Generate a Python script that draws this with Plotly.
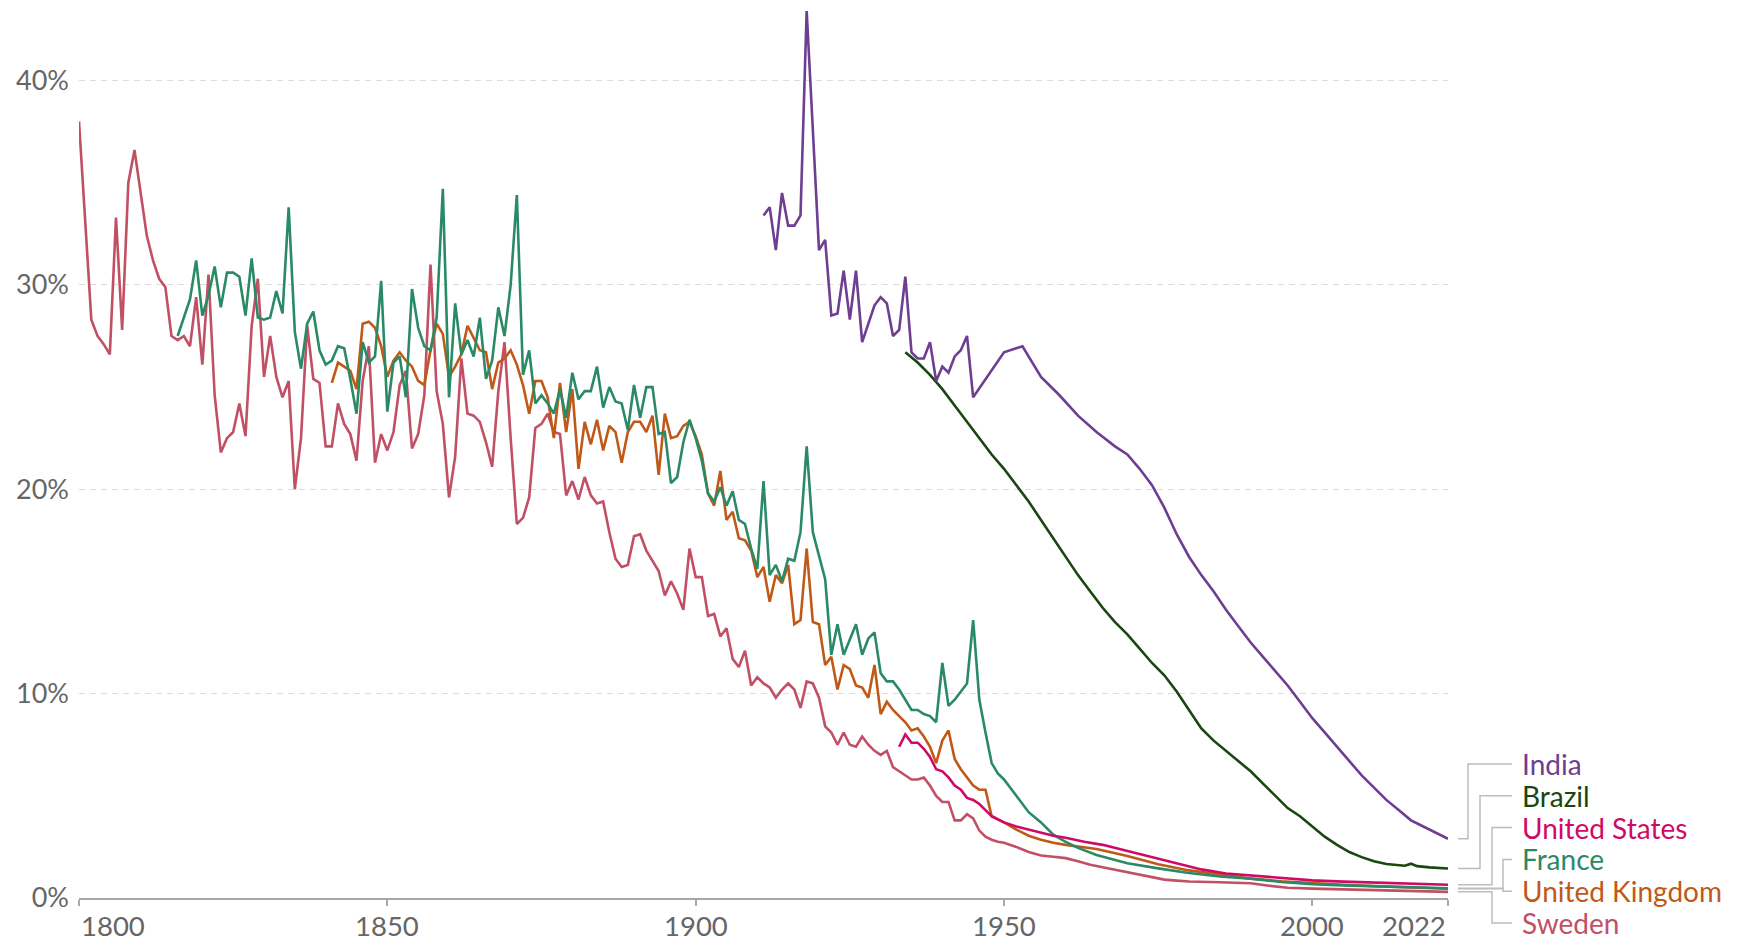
import plotly.graph_objects as go

# ---------------- data (under-five mortality, % of children) ----------------
sweden_years = list(range(1800, 1951)) + [1952, 1954, 1956, 1958, 1960, 1962, 1964, 1966, 1968, 1970, 1972,
                                          1974, 1976, 1978, 1980, 1985, 1990, 1993, 1996, 2000, 2005, 2010, 2015, 2022]
sweden_vals = [
    38.0, 33.2, 28.3, 27.5, 27.1, 26.6, 33.3, 27.8, 35.0, 36.6,
    34.4, 32.4, 31.2, 30.3, 29.9, 27.5, 27.3, 27.5, 27.0, 29.4,
    26.1, 30.5, 24.6, 21.8, 22.5, 22.8, 24.2, 22.6, 28.0, 30.3,
    25.5, 27.5, 25.5, 24.5, 25.3, 20.0, 22.5, 28.0, 25.4, 25.2,
    22.1, 22.1, 24.2, 23.2, 22.7, 21.4, 25.3, 27.0, 21.3, 22.7,
    21.9, 22.8, 25.1, 25.8, 22.0, 22.7, 24.6, 31.0, 24.8, 23.2,
    19.6, 21.6, 26.4, 23.7, 23.6, 23.3, 22.3, 21.1, 24.8, 27.2,
    22.5, 18.3, 18.6, 19.6, 23.0, 23.2, 23.7, 22.8, 22.7, 19.7,
    20.4, 19.5, 20.6, 19.7, 19.3, 19.4, 17.9, 16.6, 16.2, 16.3,
    17.7, 17.8, 17.0, 16.5, 16.0, 14.8, 15.5, 14.9, 14.1, 17.1,
    15.7, 15.7, 13.8, 13.9, 12.8, 13.2, 11.7, 11.3, 12.1, 10.4,
    10.8, 10.5, 10.3, 9.8, 10.2, 10.5, 10.2, 9.3, 10.6, 10.5,
    9.8, 8.4, 8.1, 7.5, 8.1, 7.5, 7.4, 7.9, 7.5, 7.2,
    7.0, 7.2, 6.4, 6.2, 6.0, 5.8, 5.8, 5.9, 5.5, 5.0,
    4.7, 4.7, 3.8, 3.8, 4.1, 3.9, 3.3, 3.0, 2.85, 2.75,
    2.7,
    2.5, 2.25, 2.08, 2.02, 1.95, 1.8, 1.63, 1.5, 1.38, 1.27, 1.12,
    1.0, 0.9, 0.85, 0.81, 0.77, 0.72, 0.6, 0.5, 0.46, 0.42, 0.38, 0.33, 0.3,
]

france_years = list(range(1816, 1951)) + [1952, 1954, 1956, 1958, 1960, 1962, 1965, 1970, 1975, 1980,
                                          1985, 1990, 1995, 2000, 2005, 2010, 2015, 2022]
france_vals = [
    27.5, 28.4, 29.3, 31.2,
    28.5, 29.5, 30.9, 28.9, 30.6, 30.6, 30.4, 28.5, 31.3, 28.4,
    28.3, 28.4, 29.7, 28.6, 33.8, 27.7, 25.9, 28.1, 28.7, 26.8,
    26.1, 26.3, 27.0, 26.9, 25.4, 23.7, 27.2, 26.2, 26.5, 30.2,
    23.8, 26.2, 26.5, 24.5, 29.8, 27.9, 27.0, 26.8, 28.4, 34.7,
    24.5, 29.1, 26.6, 27.3, 26.5, 28.4, 25.4, 26.3, 28.9, 27.5,
    30.0, 34.4, 25.6, 26.8, 24.2, 24.6, 24.2, 23.7, 24.9, 23.5,
    25.7, 24.4, 24.8, 24.8, 26.0, 24.0, 25.0, 24.3, 24.2, 22.9,
    25.1, 23.5, 25.0, 25.0, 22.7, 22.8, 20.3, 20.6, 22.3, 23.4,
    22.5, 21.4, 19.8, 19.4, 20.1, 19.2, 19.9, 18.5, 18.3, 17.1,
    16.1, 20.4, 15.8, 16.3, 15.5, 16.6, 16.5, 17.9, 22.1, 17.9,
    16.8, 15.6, 11.9, 13.4, 11.9, 12.7, 13.4, 11.9, 12.7, 13.0,
    11.0, 10.6, 10.6, 10.2, 9.7, 9.2, 9.2, 9.0, 8.9, 8.6,
    11.5, 9.4, 9.7, 10.1, 10.5, 13.6, 9.7, 8.1, 6.6, 6.1,
    5.8,
    5.0, 4.2, 3.7, 3.1, 2.75, 2.45, 2.1, 1.7, 1.45, 1.22,
    1.05, 0.95, 0.78, 0.68, 0.62, 0.58, 0.52, 0.48,
]

uk_years = list(range(1841, 1951)) + [1952, 1954, 1956, 1958, 1960, 1965, 1970, 1975, 1980,
                                      1985, 1990, 1995, 2000, 2005, 2010, 2015, 2022]
uk_vals = [
    25.2, 26.2, 26.0, 25.8, 24.9, 28.1, 28.2, 27.9, 27.0,
    25.5, 26.3, 26.7, 26.3, 26.0, 25.3, 25.1, 26.8, 28.1, 27.6,
    25.5, 26.0, 26.6, 28.0, 27.4, 26.8, 26.7, 24.9, 26.2, 26.4,
    26.8, 26.1, 25.1, 23.7, 25.3, 25.3, 24.5, 22.5, 25.2, 22.8,
    24.9, 21.0, 23.3, 22.2, 23.4, 21.9, 23.1, 22.8, 21.3, 22.8,
    23.3, 23.3, 22.8, 23.6, 20.7, 23.7, 22.5, 22.6, 23.1, 23.3,
    22.6, 21.7, 19.8, 19.2, 20.9, 18.5, 18.9, 17.6, 17.5, 17.0,
    15.7, 16.2, 14.5, 15.8, 15.4, 16.3, 13.4, 13.6, 17.1, 13.5,
    13.4, 11.4, 11.8, 10.2, 11.4, 11.2, 10.4, 10.3, 9.8, 11.4,
    9.0, 9.6, 9.2, 8.9, 8.6, 8.2, 8.3, 7.9, 7.4, 6.6,
    7.7, 8.2, 6.8, 6.3, 5.9, 5.5, 5.3, 5.3, 4.0, 3.85,
    3.7,
    3.35, 3.05, 2.85, 2.7, 2.6, 2.4, 2.05, 1.65, 1.35,
    1.15, 0.95, 0.82, 0.72, 0.65, 0.58, 0.52, 0.45,
]

us_years = list(range(1933, 1951)) + [1952, 1954, 1956, 1958, 1960, 1963, 1966, 1970, 1974, 1978,
                                      1982, 1986, 1990, 1995, 2000, 2005, 2010, 2015, 2022]
us_vals = [
    7.4, 8.0, 7.6, 7.6, 7.3, 6.9, 6.3, 6.2, 5.9, 5.5,
    5.3, 4.9, 4.8, 4.6, 4.3, 4.0, 3.85, 3.7,
    3.5, 3.35, 3.2, 3.05, 2.95, 2.75, 2.6, 2.3, 2.0, 1.7,
    1.4, 1.2, 1.1, 0.95, 0.86, 0.8, 0.76, 0.7, 0.65,
]

india_years = list(range(1911, 1946)) + [1950, 1953, 1956, 1959, 1962, 1965, 1968, 1970, 1972, 1974,
                                         1976, 1978, 1980, 1982, 1984, 1986, 1988, 1990, 1992, 1994,
                                         1996, 1998, 2000, 2002, 2004, 2006, 2008, 2010, 2012, 2014,
                                         2016, 2018, 2020, 2022]
india_vals = [
    33.4, 33.8, 31.7, 34.5, 32.9, 32.9, 33.4, 43.4, 37.6,
    31.7, 32.2, 28.5, 28.6, 30.7, 28.3, 30.7, 27.2, 28.1, 29.0,
    29.4, 29.1, 27.5, 27.8, 30.4, 26.7, 26.4, 26.4, 27.2, 25.3,
    26.0, 25.7, 26.5, 26.8, 27.5, 24.5,
    26.7, 27.0, 25.5, 24.6, 23.6, 22.8, 22.1, 21.7, 21.0, 20.2,
    19.1, 17.8, 16.7, 15.8, 15.0, 14.1, 13.3, 12.5, 11.8, 11.1,
    10.4, 9.6, 8.8, 8.1, 7.4, 6.7, 6.0, 5.4, 4.8, 4.3,
    3.8, 3.5, 3.2, 2.9,
]

brazil_years = [1934, 1936, 1938, 1940, 1942, 1944, 1946, 1948, 1950, 1952, 1954, 1956, 1958, 1960,
                1962, 1964, 1966, 1968, 1970, 1972, 1974, 1976, 1978, 1980, 1982, 1984, 1986, 1988,
                1990, 1992, 1994, 1996, 1998, 2000, 2002, 2004, 2006, 2008, 2010, 2012, 2014, 2015,
                2016, 2017, 2019, 2022]
brazil_vals = [26.7, 26.2, 25.6, 24.9, 24.1, 23.3, 22.5, 21.7, 21.0, 20.2, 19.4, 18.5, 17.6, 16.7,
               15.8, 15.0, 14.2, 13.5, 12.9, 12.2, 11.5, 10.9, 10.1, 9.2, 8.3, 7.7, 7.2, 6.7,
               6.2, 5.6, 5.0, 4.4, 4.0, 3.5, 3.0, 2.6, 2.25, 2.0, 1.8, 1.66, 1.6, 1.58,
               1.68, 1.56, 1.5, 1.44]

series_names = ["India", "Brazil", "United States", "France", "United Kingdom", "Sweden"]
series_colors = ["#6D3E91", "#18470F", "#CF0A66", "#2A8A66", "#C05917", "#C15065"]
series_data = {
    "India": (india_years, india_vals),
    "Brazil": (brazil_years, brazil_vals),
    "United States": (us_years, us_vals),
    "France": (france_years, france_vals),
    "United Kingdom": (uk_years, uk_vals),
    "Sweden": (sweden_years, sweden_vals),
}

x_ticks = [1800, 1850, 1900, 1950, 2000, 2022]
y_ticks = [0, 10, 20, 30, 40]
y_ticktext = ["0%", "10%", "20%", "30%", "40%"]

# ---------------- layout geometry (page has an 8px body margin) ----------------
W, H = 1732, 934
ML, MR, MT, MB = 71, 292, 1, 44
Y_MAX = 43.5
X_MIN, X_MAX = 1800, 2022
plot_w = W - ML - MR
plot_h = H - MT - MB
FONT = "Lato, 'Open Sans', sans-serif"


def px_to_paper_x(px):
    return (px - ML) / plot_w


def val_to_py(v):
    return (H - MB) - v / Y_MAX * plot_h


def py_to_paper(py):
    return ((H - MB) - py) / plot_h


fig = go.Figure()

for name in ["Sweden", "United Kingdom", "France", "United States", "Brazil", "India"]:
    xs, ys = series_data[name]
    col = series_colors[series_names.index(name)]
    fig.add_trace(go.Scatter(x=xs, y=ys, mode="lines", name=name,
                             line=dict(color=col, width=2.6), showlegend=False,
                             hoverinfo="skip"))

annotations = []
shapes = []

# x tick labels
for t in x_ticks:
    anchor = "center"
    if t == X_MIN:
        anchor = "left"
    elif t == X_MAX:
        anchor = "right"
    annotations.append(dict(x=t, xref="x", y=0, yref="paper", yshift=-27, text=str(t),
                            showarrow=False, xanchor=anchor, yanchor="middle",
                            font=dict(family=FONT, size=27.5, color="#666666")))

# end labels with connectors (pixel positions are in figure coordinates)
OFF = 8
label_x_px = 1520 - OFF
label_py0 = 764 - OFF
label_step = 31.8
start_px = 1458 - OFF
end_px = 1512 - OFF
elbow_px = {"India": 1468 - OFF, "Brazil": 1480 - OFF, "United States": 1492 - OFF,
            "France": 1503 - OFF, "United Kingdom": 1503 - OFF, "Sweden": 1492 - OFF}
for i, name in enumerate(series_names):
    xs, ys = series_data[name]
    col = series_colors[i]
    ly = label_py0 + i * label_step
    annotations.append(dict(x=px_to_paper_x(label_x_px), xref="paper", y=py_to_paper(ly), yref="paper",
                            text=name, showarrow=False, xanchor="left", yanchor="middle",
                            font=dict(family=FONT, size=28, color=col)))
    ey = val_to_py(ys[-1])
    ex = elbow_px[name]
    path = "M {} {} L {} {} L {} {} L {} {}".format(
        px_to_paper_x(start_px), py_to_paper(ey),
        px_to_paper_x(ex), py_to_paper(ey),
        px_to_paper_x(ex), py_to_paper(ly),
        px_to_paper_x(end_px), py_to_paper(ly))
    shapes.append(dict(type="path", path=path, xref="paper", yref="paper",
                       line=dict(color="#bdbdbd", width=1.5)))

fig.update_layout(
    width=W, height=H,
    margin=dict(l=ML, r=MR, t=MT, b=MB, pad=0),
    paper_bgcolor="white", plot_bgcolor="white",
    showlegend=False,
    annotations=annotations,
    shapes=shapes,
    font=dict(family=FONT),
)

fig.update_xaxes(range=[X_MIN, X_MAX], tickvals=x_ticks, showticklabels=False,
                 showgrid=False, zeroline=False, showline=True, linecolor="#a8a8a8", linewidth=1.5,
                 ticks="outside", ticklen=6, tickwidth=1.5, tickcolor="#a8a8a8")
fig.update_yaxes(range=[0, Y_MAX], tickvals=y_ticks, ticktext=y_ticktext,
                 showgrid=True, gridcolor="#dddddd", gridwidth=1, griddash="6px,5px",
                 zeroline=False, showline=False, ticks="", ticklabelstandoff=9,
                 tickfont=dict(family=FONT, size=27, color="#666666"))

fig.write_html("out.html")
